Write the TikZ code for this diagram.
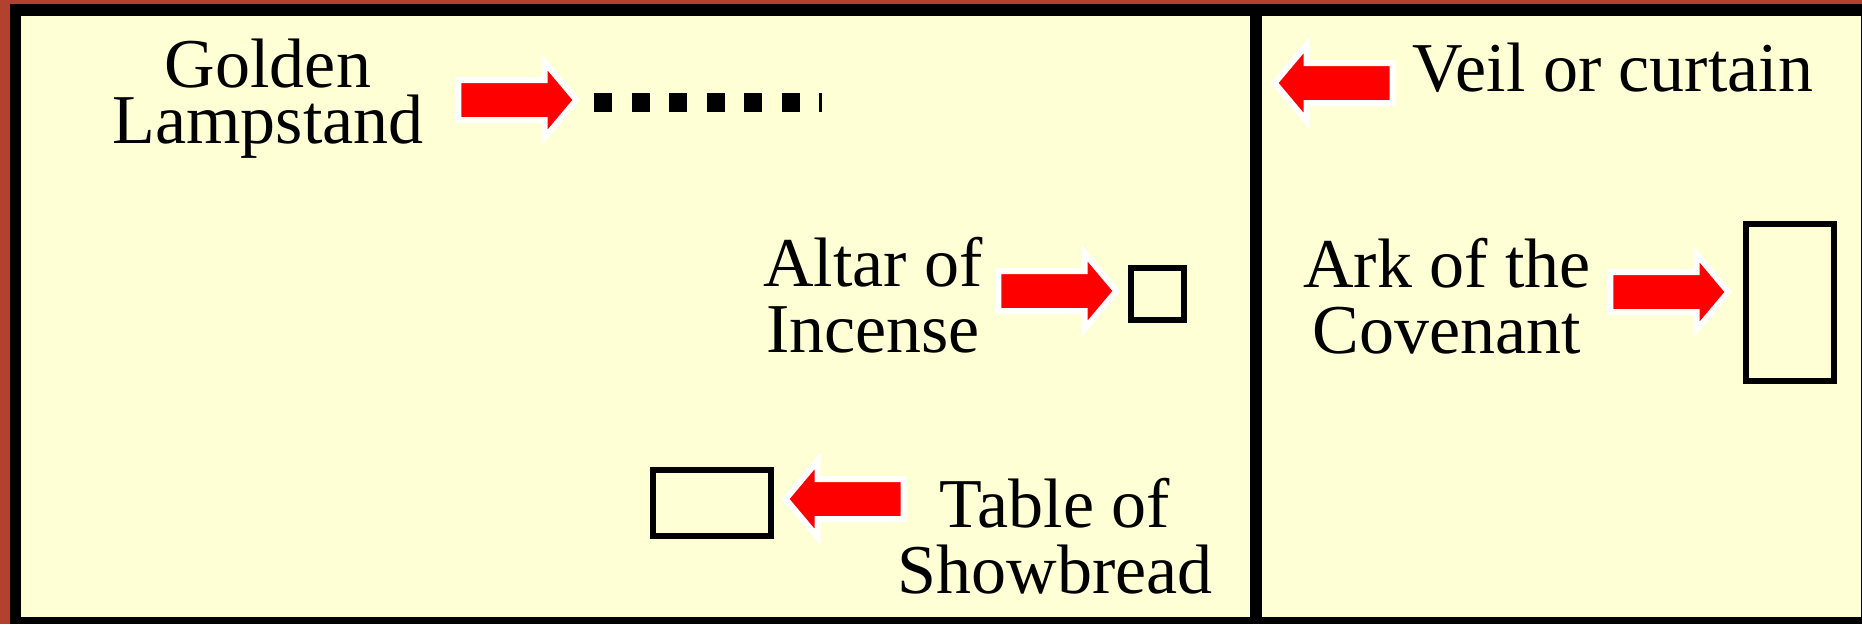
\documentclass[tikz,border=0pt]{standalone}
\usepackage{fontspec}
\setmainfont{Liberation Serif}
\usetikzlibrary{shapes.arrows,positioning}
\definecolor{curtainbrown}{RGB}{178,66,46}
\definecolor{parchment}{RGB}{255,255,214}
\tikzset{
  itemtext/.style={
      font={\fontsize{70}{#1}\selectfont\lineskiplimit=-50pt},
      align=center, inner sep=0pt, anchor=base,
  },
  itemtext/.default=66,
  pointer/.style={
      single arrow, fill=red, draw=white, line width=6pt,
      minimum height=118pt, inner xsep=0pt, inner ysep=17pt,
      single arrow head extend=18pt, single arrow tip angle=100,
  },
  pointerleft/.style={pointer, shape border rotate=180},
  furniture/.style={
    draw, line width=6pt, inner sep=0pt,
  },
  lampbar/.style={
    line width=19pt, dash pattern=on 18pt off 19.5pt,
  }
}

\begin{document}
\begin{tikzpicture}[x=1pt,y=-1pt]
\useasboundingbox (0,0) rectangle (1862,624);
% walls and veil
\fill[curtainbrown] (0,0) rectangle (1862,624);
\fill[black] (10,4) rectangle (1862,624);
\fill[parchment] (21,16) rectangle (1861,617);
\fill[black] (1250,16) rectangle (1262,617);

% holy place
\node[itemtext=56] (lampstand) at (268,143) {Golden\\Lampstand};
\node[pointer] (lamparrow) at (509,100) {};
\draw[lampbar] (594,102.5) -- (822,102.5);

\node[itemtext] (altar) at (873,352) {Altar of\\Incense};
\node[pointer] (altararrow) at (1049,291) {};
\node[furniture, minimum width=53pt, minimum height=52pt] (altarbox) at (1157.5,294) {};

\node[itemtext] (table) at (1055,593) {Table of\\Showbread};
\node[pointerleft] (tablearrow) at (853,499) {};
\node[furniture, minimum width=118pt, minimum height=66pt] (tablebox) at (712,503) {};

% most holy place
\node[itemtext] (veil) at (1613,91) {Veil or curtain};
\node[pointerleft] (veilarrow) at (1342,83) {};

\node[itemtext] (ark) at (1447,353) {Ark of the\\Covenant};
\node[pointer] (arkarrow) at (1661,292) {};
\node[furniture, minimum width=88pt, minimum height=157pt] (arkbox) at (1790,302.5) {};
\end{tikzpicture}
\end{document}
